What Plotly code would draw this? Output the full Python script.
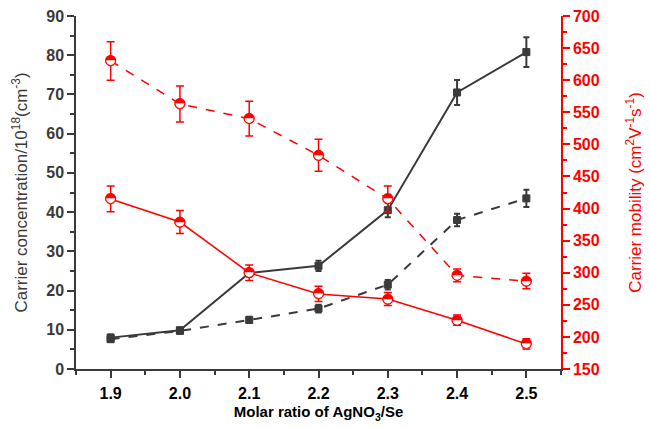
import plotly.graph_objects as go

ratio = [1.9, 2.0, 2.1, 2.2, 2.3, 2.4, 2.5]

conc_a = [8.0, 9.9, 24.5, 26.3, 40.5, 70.5, 80.8]
conc_a_err = [0.8, 0.6, 1.0, 1.3, 1.8, 3.2, 3.8]
conc_b = [7.6, 9.7, 12.5, 15.4, 21.5, 38.0, 43.5]
conc_b_err = [0.7, 0.5, 0.8, 1.0, 1.2, 1.6, 2.2]

mob_a = [630, 563, 540, 483, 415, 296, 287]
mob_a_err = [30, 28, 27, 25, 20, 10, 12]
mob_b = [415, 379, 300, 267, 259, 226, 189]
mob_b_err = [20, 18, 12, 12, 10, 8, 8]

DARK = "#3a3a3a"
RED = "#ff0000"

fig = go.Figure()

def conc_trace(y, err, dash):
    return go.Scatter(
        x=ratio, y=y, mode="lines+markers",
        line=dict(color=DARK, width=2, dash=dash),
        marker=dict(symbol="square", size=7, color=DARK, line=dict(color=DARK, width=1)),
        error_y=dict(type="data", array=err, visible=True, color=DARK, thickness=2, width=3),
        showlegend=False, yaxis="y")

def mob_traces(y, err, dash):
    base = go.Scatter(
        x=ratio, y=y, mode="lines+markers",
        line=dict(color=RED, width=1.5, dash=dash),
        marker=dict(symbol="circle", size=10, color="white", line=dict(color=RED, width=1)),
        error_y=dict(type="data", array=err, visible=True, color=RED, thickness=1.5, width=4),
        showlegend=False, yaxis="y2")
    glyph = go.Scatter(
        x=ratio, y=y, mode="text", text=["\u25d3"] * len(ratio),
        textposition="middle center",
        textfont=dict(family="DejaVu Sans", size=14, color=RED),
        showlegend=False, hoverinfo="skip", yaxis="y2")
    return [base, glyph]

fig.add_trace(conc_trace(conc_b, conc_b_err, "dash"))
fig.add_trace(conc_trace(conc_a, conc_a_err, "solid"))
for t in mob_traces(mob_a, mob_a_err, "dash"):
    fig.add_trace(t)
for t in mob_traces(mob_b, mob_b_err, "solid"):
    fig.add_trace(t)

fig.update_layout(
    width=650, height=428,
    margin=dict(l=76, r=86, t=8, b=59),
    paper_bgcolor="white", plot_bgcolor="white",
    font=dict(family="Liberation Sans"),
    xaxis=dict(
        range=[1.85, 2.55], tickvals=ratio, ticktext=[f"<b>{v:.1f}</b>" for v in ratio],
        showgrid=False, zeroline=False, showline=True, linecolor=DARK, linewidth=1.5,
        ticks="outside", ticklen=7, tickwidth=1.5, tickcolor=DARK,
        minor=dict(dtick=0.05, tick0=1.85, ticks="outside", ticklen=4, tickcolor=DARK, tickwidth=1.5),
        tickfont=dict(family="Liberation Sans", size=16, color="black"),
        ticklabelstandoff=2,
        title=dict(text="<b>Molar ratio of AgNO<sub>3</sub>/Se</b>", font=dict(size=15, color="black"), standoff=6),
    ),
    yaxis=dict(
        range=[0, 90], tickvals=list(range(0, 91, 10)),
        ticktext=[f"<b>{v}</b>" for v in range(0, 91, 10)],
        showgrid=False, zeroline=False, showline=True, linecolor=DARK, linewidth=1.5,
        ticks="outside", ticklen=7, tickwidth=1.5, tickcolor=DARK,
        minor=dict(dtick=5, ticks="outside", ticklen=4, tickcolor=DARK, tickwidth=1.5),
        tickfont=dict(family="Liberation Sans", size=16, color=DARK),
        ticklabeloverflow="allow",
        title=dict(text="Carrier concentration/10<sup>18</sup>(cm<sup>-3</sup>)", font=dict(size=17, color=DARK), standoff=14),
    ),
    yaxis2=dict(
        range=[150, 700], overlaying="y", side="right",
        tickvals=list(range(150, 701, 50)),
        ticktext=[f"<b>{v}</b>" for v in range(150, 701, 50)],
        showgrid=False, zeroline=False, showline=True, linecolor=RED, linewidth=1.5,
        ticks="outside", ticklen=7, tickwidth=1.5, tickcolor=RED,
        minor=dict(dtick=25, tick0=150, ticks="outside", ticklen=4, tickcolor=RED, tickwidth=1.5),
        tickfont=dict(family="Liberation Sans", size=16, color=RED),
        ticklabeloverflow="allow",
        title=dict(text="Carrier mobility (cm<sup>2</sup>V<sup>-1</sup>s<sup>-1</sup>)", font=dict(size=17, color=RED), standoff=30),
    ),
)

fig.write_html("out.html", config={"displayModeBar": False},
               post_script="document.body.style.margin='0px';")
